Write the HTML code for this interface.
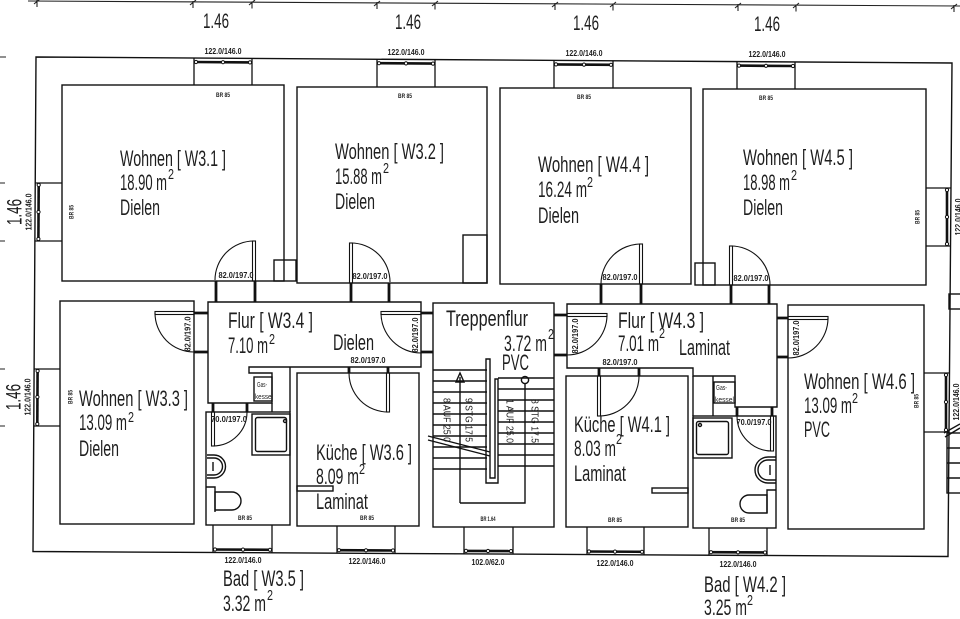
<!DOCTYPE html>
<html><head><meta charset="utf-8">
<style>
html,body{margin:0;padding:0;background:#fff;}
svg{display:block;}
text{font-family:"Liberation Sans",sans-serif;fill:#1e1e1e;}
.t{font-size:22px;}
.s{font-size:15px;}
.d{font-size:21px;}
.sm{font-size:8px;font-weight:bold;}
.br{font-size:6.5px;font-weight:bold;}
.gk{font-size:7px;}
.st{font-size:10px;}
</style></head><body>
<svg width="960" height="619" viewBox="0 0 960 619" xmlns="http://www.w3.org/2000/svg">
<rect width="960" height="619" fill="#fff"/>

<!-- dimension line top -->
<g stroke="#222" stroke-width="1.1" fill="none">
<line x1="28" y1="1" x2="960" y2="6"/>
<path d="M37,0 V7 M34,4 L40,-1 M193,1 V8 M190,5 L196,0 M252,1.5 V8.5 M249,5 L255,0 M377,2 V9 M374,6 L380,1 M435,2.5 V9.5 M432,6 L438,1 M555,3 V10 M552,7 L558,2 M613,3.5 V10.5 M610,7 L616,2 M738,4 V11 M735,8 L741,3 M796,4.5 V11.5 M793,8 L799,3 M954,5 V12 M951,9 L957,4"/>
<path d="M0,57 H6 M0,183 H5 M0,241 H5 M0,369 H5 M0,426 H5"/>
</g>

<g stroke="#111" stroke-width="1.4" fill="none">
<!-- outer wall -->
<polygon points="36,57 952,63 948,556.5 33,551.5"/>

<!-- upper rooms -->
<rect x="62" y="85" width="222" height="196"/>
<rect x="274" y="260" width="22" height="21"/>
<rect x="297" y="87" width="190" height="196"/>
<rect x="463" y="235" width="24" height="48"/>
<rect x="500" y="88" width="191" height="196"/>
<rect x="695" y="263" width="20" height="22"/>
<rect x="703" y="89" width="223" height="196"/>

<!-- lower rooms -->
<rect x="60" y="301" width="134" height="223"/>
<polygon points="208,302 421,302 421,367 249,367 249,373 272,373 272,403 208,403"/>
<line x1="290" y1="367" x2="290" y2="412"/>
<line x1="272" y1="403" x2="272" y2="412"/>
<rect x="206" y="412" width="84" height="113"/>
<rect x="297" y="373" width="122" height="153"/>
<rect x="433" y="303" width="121" height="224"/>
<polygon points="567,304 777,304 777,407 735,407 735,376 693,376 693,368 567,368"/>
<line x1="693" y1="376" x2="693" y2="416"/>
<line x1="713" y1="376" x2="713" y2="416"/>
<rect x="566" y="376" width="122" height="151"/>
<rect x="693" y="416" width="83" height="112"/>
<rect x="788" y="305" width="136" height="224"/>

<!-- gaskessel boxes -->
<rect x="254" y="377" width="18" height="24"/>
<rect x="714" y="382" width="21" height="21"/>

<!-- kitchen counters -->
<rect x="297" y="486" width="36" height="5"/>
<rect x="652" y="488" width="36" height="5"/>

<!-- showers -->
<rect x="252" y="414" width="38" height="41"/>
<rect x="255.5" y="417.5" width="31" height="34" rx="2"/>
<circle cx="285" cy="421" r="1.5"/>
<rect x="693" y="418" width="39" height="40"/>
<rect x="696.5" y="421.5" width="32" height="33" rx="2"/>
<circle cx="700" cy="425" r="1.5"/>

<!-- basins -->
<path d="M207,455 h7 a11.5,11.5 0 0 1 0,23 h-7"/>
<path d="M207,458 h7 a8.5,8.5 0 0 1 0,17 h-7"/>
<line x1="213" y1="462" x2="213" y2="471"/>
<path d="M776,457 h-8 a13,13 0 0 0 0,26 h8"/>
<path d="M776,460 h-8 a10,10 0 0 0 0,20 h8"/>
<line x1="770" y1="465" x2="770" y2="475"/>

<!-- WCs -->
<path d="M206,487 H215 V512"/>
<path d="M215,492 h17 a9,9 0 0 1 0,18 h-17 z"/>
<path d="M776,490 H767 V513"/>
<path d="M767,495 h-18 a9,9 0 0 0 0,18 h18 z"/>

<!-- right edge fragments -->
<rect x="949" y="294" width="14" height="15"/>
<rect x="947" y="433" width="16" height="60"/>
<path d="M947,448 H960 M947,463 H960 M947,478 H960"/>
<path d="M944,433 L960,424 M945,437 L960,428"/>

<!-- stairs -->
<path d="M433,370 H487 M433,381 H487 M433,392 H487 M433,403 H487 M433,414 H487 M433,425 H487 M433,436 H487 M433,447 H487 M433,458 H487 M433,469 H487"/>
<path d="M498,378 H554 M498,389 H554 M498,400 H554 M498,411 H554 M498,422 H554 M498,433 H554 M498,444 H554 M498,455 H554 M498,466 H554"/>
<path d="M486,359 H490 V478 H495 V379 H498 V483 H486 Z"/>
<path d="M460,503 V377 M460,503 H525 V384"/>
<path d="M456,382 L460,373 L464,382 Z"/>
<circle cx="525" cy="380" r="3.6"/>
<path d="M428,436 L490,452 M428,440 L490,456"/>
</g>

<!-- windows -->
<g stroke="#111" stroke-width="1.3" fill="none">
<path d="M194,58 V85 M252,58.4 V85 M377,59.2 V87 M435,59.6 V87 M554,60.4 V88 M613,60.8 V88 M737,61.6 V89 M795,62 V89"/>
<path d="M213,525 V552.5 M272,525 V552.8 M337,526 V553.2 M395,526 V553.5 M464,527 V553.9 M513,527 V554.1 M587,527 V554.5 M644,527 V554.8 M709,528 V555.2 M767,528 V555.5"/>
<path d="M35.2,183 H62 M34.9,241 H62 M34.1,369 H60 M33.8,426 H60"/>
<path d="M926,188 H951 M926,246 H950.5 M924,373 H949.5 M924,432 H949"/>
</g>
<g stroke="#111" stroke-width="2.6">
<line x1="194" y1="62" x2="252" y2="62.4"/>
<line x1="377" y1="63.2" x2="435" y2="63.6"/>
<line x1="554" y1="64.4" x2="613" y2="64.8"/>
<line x1="737" y1="65.6" x2="795" y2="66"/>
<line x1="213" y1="549.5" x2="272" y2="549.8"/>
<line x1="337" y1="550.2" x2="395" y2="550.5"/>
<line x1="464" y1="550.9" x2="513" y2="551.1"/>
<line x1="587" y1="551.5" x2="644" y2="551.8"/>
<line x1="709" y1="552.2" x2="767" y2="552.5"/>
<line x1="38.7" y1="183" x2="38.4" y2="241"/>
<line x1="37.6" y1="369" x2="37.3" y2="426"/>
<line x1="947" y1="188" x2="947" y2="246"/>
<line x1="946" y1="373" x2="946" y2="432"/>
</g>
<g fill="#fff" stroke="#111" stroke-width="1">
<circle cx="196" cy="62" r="1.6"/><circle cx="223" cy="62.2" r="1.6"/><circle cx="250" cy="62.4" r="1.6"/>
<circle cx="379" cy="63.2" r="1.6"/><circle cx="406" cy="63.4" r="1.6"/><circle cx="433" cy="63.6" r="1.6"/>
<circle cx="556" cy="64.4" r="1.6"/><circle cx="584" cy="64.6" r="1.6"/><circle cx="611" cy="64.8" r="1.6"/>
<circle cx="739" cy="65.6" r="1.6"/><circle cx="766" cy="65.8" r="1.6"/><circle cx="793" cy="66" r="1.6"/>
<circle cx="215" cy="549.5" r="1.6"/><circle cx="243" cy="549.6" r="1.6"/><circle cx="270" cy="549.8" r="1.6"/>
<circle cx="339" cy="550.2" r="1.6"/><circle cx="366" cy="550.3" r="1.6"/><circle cx="393" cy="550.5" r="1.6"/>
<circle cx="466" cy="550.9" r="1.6"/><circle cx="488" cy="551" r="1.6"/><circle cx="511" cy="551.1" r="1.6"/>
<circle cx="589" cy="551.5" r="1.6"/><circle cx="615" cy="551.6" r="1.6"/><circle cx="642" cy="551.8" r="1.6"/>
<circle cx="711" cy="552.2" r="1.6"/><circle cx="738" cy="552.3" r="1.6"/><circle cx="765" cy="552.5" r="1.6"/>
<circle cx="38.7" cy="185" r="1.6"/><circle cx="38.5" cy="212" r="1.6"/><circle cx="38.4" cy="239" r="1.6"/>
<circle cx="37.6" cy="371" r="1.6"/><circle cx="37.4" cy="397" r="1.6"/><circle cx="37.3" cy="424" r="1.6"/>
<circle cx="947" cy="190" r="1.6"/><circle cx="947" cy="217" r="1.6"/><circle cx="947" cy="244" r="1.6"/>
<circle cx="946" cy="375" r="1.6"/><circle cx="946" cy="402" r="1.6"/><circle cx="946" cy="430" r="1.6"/>
</g>

<!-- door jambs -->
<g stroke="#111" stroke-width="2.8">
<path d="M216,281 V302 M255,281 V302 M351,283 V302 M389,283 V302 M601,284 V304 M641,284 V304 M731,285 V304 M769,285 V304"/>
<path d="M194,313 H208 M194,352 H208 M421,313 H433 M421,352 H433 M554,315 H567 M554,355 H567 M777,318 H788 M777,357 H788"/>
<path d="M349,367 V373 M388,367 V373 M599,368 V376 M639,368 V376 M213,403 V412 M247,403 V412 M737,407 V416 M772,407 V416"/>
</g>

<!-- door leaves and swings -->
<g stroke="#111" stroke-width="1.1" fill="none">
<rect x="252.5" y="241" width="3" height="40"/><path d="M254,241 A39,39 0 0 0 215,280"/>
<rect x="349.5" y="243" width="3" height="40"/><path d="M351,243 A39,39 0 0 1 390,282"/>
<rect x="639.5" y="244" width="3" height="40"/><path d="M641,244 A40,40 0 0 0 601,284"/>
<rect x="729.5" y="246" width="3" height="39"/><path d="M731,246 A39,39 0 0 1 770,285"/>
<rect x="155" y="311.5" width="39" height="3"/><path d="M155,313 A39,39 0 0 0 194,352"/>
<rect x="381" y="311.5" width="40" height="3"/><path d="M381,313 A40,40 0 0 0 421,353"/>
<rect x="567" y="313.5" width="40" height="3"/><path d="M607,315 A40,40 0 0 1 567,355"/>
<rect x="788" y="316.5" width="40" height="3"/><path d="M828,318 A40,40 0 0 1 788,358"/>
<rect x="386.5" y="373" width="3" height="39"/><path d="M349,373 A39,39 0 0 0 388,412"/>
<rect x="597.5" y="376" width="3" height="40"/><path d="M639,376 A40,40 0 0 1 599,416"/>
<rect x="211.5" y="412" width="3" height="34"/><path d="M247,412 A34,34 0 0 1 213,446"/>
<rect x="770.5" y="416" width="3" height="35"/><path d="M737,416 A35,35 0 0 0 772,451"/>
</g>

<!-- dimension texts -->
<g class="d">
<text class="d" x="216" y="28" text-anchor="middle" textLength="26" lengthAdjust="spacingAndGlyphs">1.46</text>
<text class="d" x="408" y="29" text-anchor="middle" textLength="26" lengthAdjust="spacingAndGlyphs">1.46</text>
<text class="d" x="586" y="30" text-anchor="middle" textLength="26" lengthAdjust="spacingAndGlyphs">1.46</text>
<text class="d" x="767" y="31" text-anchor="middle" textLength="26" lengthAdjust="spacingAndGlyphs">1.46</text>
<text class="d" transform="translate(14,212) rotate(-90)" x="0" y="7.5" text-anchor="middle" textLength="26" lengthAdjust="spacingAndGlyphs">1.46</text>
<text class="d" transform="translate(13,397) rotate(-90)" x="0" y="7.5" text-anchor="middle" textLength="26" lengthAdjust="spacingAndGlyphs">1.46</text>
</g>

<!-- window labels -->
<g>
<text class="sm" x="223" y="54" text-anchor="middle" textLength="37" lengthAdjust="spacingAndGlyphs">122.0/146.0</text>
<text class="sm" x="406" y="55" text-anchor="middle" textLength="37" lengthAdjust="spacingAndGlyphs">122.0/146.0</text>
<text class="sm" x="584" y="56" text-anchor="middle" textLength="37" lengthAdjust="spacingAndGlyphs">122.0/146.0</text>
<text class="sm" x="767" y="57" text-anchor="middle" textLength="37" lengthAdjust="spacingAndGlyphs">122.0/146.0</text>
<text class="sm" x="243" y="563" text-anchor="middle" textLength="37" lengthAdjust="spacingAndGlyphs">122.0/146.0</text>
<text class="sm" x="367" y="564" text-anchor="middle" textLength="37" lengthAdjust="spacingAndGlyphs">122.0/146.0</text>
<text class="sm" x="488" y="565" text-anchor="middle" textLength="33" lengthAdjust="spacingAndGlyphs">102.0/62.0</text>
<text class="sm" x="615" y="566" text-anchor="middle" textLength="37" lengthAdjust="spacingAndGlyphs">122.0/146.0</text>
<text class="sm" x="738" y="567" text-anchor="middle" textLength="37" lengthAdjust="spacingAndGlyphs">122.0/146.0</text>
<text class="sm" transform="translate(28.5,212) rotate(-90)" x="0" y="2.8" text-anchor="middle" textLength="37" lengthAdjust="spacingAndGlyphs">122.0/146.0</text>
<text class="sm" transform="translate(27.5,397) rotate(-90)" x="0" y="2.8" text-anchor="middle" textLength="37" lengthAdjust="spacingAndGlyphs">122.0/146.0</text>
<text class="sm" transform="translate(958,217) rotate(-90)" x="0" y="2.8" text-anchor="middle" textLength="37" lengthAdjust="spacingAndGlyphs">122.0/146.0</text>
<text class="sm" transform="translate(956,402) rotate(-90)" x="0" y="2.8" text-anchor="middle" textLength="37" lengthAdjust="spacingAndGlyphs">122.0/146.0</text>
</g>

<!-- door labels -->
<g>
<text class="sm" x="236" y="278" text-anchor="middle" textLength="35" lengthAdjust="spacingAndGlyphs">82.0/197.0</text>
<text class="sm" x="370" y="279" text-anchor="middle" textLength="35" lengthAdjust="spacingAndGlyphs">82.0/197.0</text>
<text class="sm" x="620" y="280" text-anchor="middle" textLength="35" lengthAdjust="spacingAndGlyphs">82.0/197.0</text>
<text class="sm" x="751" y="281" text-anchor="middle" textLength="35" lengthAdjust="spacingAndGlyphs">82.0/197.0</text>
<text class="sm" x="368" y="363" text-anchor="middle" textLength="35" lengthAdjust="spacingAndGlyphs">82.0/197.0</text>
<text class="sm" x="620" y="365" text-anchor="middle" textLength="35" lengthAdjust="spacingAndGlyphs">82.0/197.0</text>
<text class="sm" x="229" y="422" text-anchor="middle" textLength="36" lengthAdjust="spacingAndGlyphs">70.0/197.0</text>
<text class="sm" x="754" y="425" text-anchor="middle" textLength="35" lengthAdjust="spacingAndGlyphs">70.0/197.0</text>
<text class="sm" transform="translate(187.5,334) rotate(-90)" x="0" y="2.8" text-anchor="middle" textLength="35" lengthAdjust="spacingAndGlyphs">82.0/197.0</text>
<text class="sm" transform="translate(415,335) rotate(-90)" x="0" y="2.8" text-anchor="middle" textLength="35" lengthAdjust="spacingAndGlyphs">82.0/197.0</text>
<text class="sm" transform="translate(575,336) rotate(-90)" x="0" y="2.8" text-anchor="middle" textLength="35" lengthAdjust="spacingAndGlyphs">82.0/197.0</text>
<text class="sm" transform="translate(796,338) rotate(-90)" x="0" y="2.8" text-anchor="middle" textLength="35" lengthAdjust="spacingAndGlyphs">82.0/197.0</text>
</g>

<!-- BR labels -->
<g>
<text class="br" x="223" y="97" text-anchor="middle" textLength="14" lengthAdjust="spacingAndGlyphs">BR 85</text>
<text class="br" x="405" y="98" text-anchor="middle" textLength="14" lengthAdjust="spacingAndGlyphs">BR 85</text>
<text class="br" x="584" y="99" text-anchor="middle" textLength="14" lengthAdjust="spacingAndGlyphs">BR 85</text>
<text class="br" x="766" y="100" text-anchor="middle" textLength="14" lengthAdjust="spacingAndGlyphs">BR 85</text>
<text class="br" x="245" y="520" text-anchor="middle" textLength="14" lengthAdjust="spacingAndGlyphs">BR 85</text>
<text class="br" x="367" y="520" text-anchor="middle" textLength="14" lengthAdjust="spacingAndGlyphs">BR 85</text>
<text class="br" x="488" y="521" text-anchor="middle" textLength="15" lengthAdjust="spacingAndGlyphs">BR 1.64</text>
<text class="br" x="615" y="522" text-anchor="middle" textLength="14" lengthAdjust="spacingAndGlyphs">BR 85</text>
<text class="br" x="738" y="522" text-anchor="middle" textLength="14" lengthAdjust="spacingAndGlyphs">BR 85</text>
<text class="br" transform="translate(71,212) rotate(-90)" x="0" y="2.3" text-anchor="middle" textLength="14" lengthAdjust="spacingAndGlyphs">BR 85</text>
<text class="br" transform="translate(917,217) rotate(-90)" x="0" y="2.3" text-anchor="middle" textLength="14" lengthAdjust="spacingAndGlyphs">BR 85</text>
<text class="br" transform="translate(70,397) rotate(-90)" x="0" y="2.3" text-anchor="middle" textLength="14" lengthAdjust="spacingAndGlyphs">BR 85</text>
<text class="br" transform="translate(916,401) rotate(-90)" x="0" y="2.3" text-anchor="middle" textLength="14" lengthAdjust="spacingAndGlyphs">BR 85</text>
</g>

<!-- gaskessel labels -->
<text class="gk" x="257" y="387" textLength="10" lengthAdjust="spacingAndGlyphs">Gas-</text>
<text class="gk" x="255" y="399" textLength="18" lengthAdjust="spacingAndGlyphs">kessel</text>
<text class="gk" x="716" y="390" textLength="11" lengthAdjust="spacingAndGlyphs">Gas-</text>
<text class="gk" x="715" y="402" textLength="19" lengthAdjust="spacingAndGlyphs">kessel</text>

<!-- stair labels -->
<text class="st" transform="translate(447,420) rotate(90)" x="0" y="3.5" text-anchor="middle" textLength="44" lengthAdjust="spacingAndGlyphs">8 AUF 25.0</text>
<text class="st" transform="translate(469,420) rotate(90)" x="0" y="3.5" text-anchor="middle" textLength="44" lengthAdjust="spacingAndGlyphs">9 STG 17.5</text>
<text class="st" transform="translate(510,421) rotate(90)" x="0" y="3.5" text-anchor="middle" textLength="44" lengthAdjust="spacingAndGlyphs">1 AUF 25.0</text>
<text class="st" transform="translate(535,421) rotate(90)" x="0" y="3.5" text-anchor="middle" textLength="44" lengthAdjust="spacingAndGlyphs">8 STG 17.5</text>

<!-- room labels -->
<g class="t">
<text class="t" x="120" y="166" textLength="106" lengthAdjust="spacingAndGlyphs">Wohnen [ W3.1 ]</text>
<text class="t" x="120" y="190" textLength="47" lengthAdjust="spacingAndGlyphs">18.90 m</text>
<text class="s" x="168" y="179" textLength="6" lengthAdjust="spacingAndGlyphs">2</text>
<text class="t" x="120" y="215" textLength="40" lengthAdjust="spacingAndGlyphs">Dielen</text>

<text class="t" x="335" y="159" textLength="109" lengthAdjust="spacingAndGlyphs">Wohnen [ W3.2 ]</text>
<text class="t" x="335" y="184" textLength="47" lengthAdjust="spacingAndGlyphs">15.88 m</text>
<text class="s" x="383" y="173" textLength="6" lengthAdjust="spacingAndGlyphs">2</text>
<text class="t" x="335" y="209" textLength="40" lengthAdjust="spacingAndGlyphs">Dielen</text>

<text class="t" x="538" y="172" textLength="111" lengthAdjust="spacingAndGlyphs">Wohnen [ W4.4 ]</text>
<text class="t" x="538" y="197" textLength="49" lengthAdjust="spacingAndGlyphs">16.24 m</text>
<text class="s" x="587" y="187" textLength="6" lengthAdjust="spacingAndGlyphs">2</text>
<text class="t" x="538" y="223" textLength="41" lengthAdjust="spacingAndGlyphs">Dielen</text>

<text class="t" x="743" y="165" textLength="110" lengthAdjust="spacingAndGlyphs">Wohnen [ W4.5 ]</text>
<text class="t" x="743" y="190" textLength="47" lengthAdjust="spacingAndGlyphs">18.98 m</text>
<text class="s" x="791" y="180" textLength="6" lengthAdjust="spacingAndGlyphs">2</text>
<text class="t" x="743" y="215" textLength="40" lengthAdjust="spacingAndGlyphs">Dielen</text>

<text class="t" x="79" y="406" textLength="109" lengthAdjust="spacingAndGlyphs">Wohnen [ W3.3 ]</text>
<text class="t" x="79" y="430" textLength="48" lengthAdjust="spacingAndGlyphs">13.09 m</text>
<text class="s" x="128" y="422" textLength="6" lengthAdjust="spacingAndGlyphs">2</text>
<text class="t" x="79" y="456" textLength="40" lengthAdjust="spacingAndGlyphs">Dielen</text>

<text class="t" x="228" y="328" textLength="85" lengthAdjust="spacingAndGlyphs">Flur [ W3.4 ]</text>
<text class="t" x="228" y="353" textLength="40" lengthAdjust="spacingAndGlyphs">7.10 m</text>
<text class="s" x="269" y="344" textLength="6" lengthAdjust="spacingAndGlyphs">2</text>
<text class="t" x="333" y="350" textLength="41" lengthAdjust="spacingAndGlyphs">Dielen</text>

<text class="t" x="316" y="460" textLength="96" lengthAdjust="spacingAndGlyphs">Küche [ W3.6 ]</text>
<text class="t" x="316" y="484" textLength="43" lengthAdjust="spacingAndGlyphs">8.09 m</text>
<text class="s" x="359" y="474" textLength="6" lengthAdjust="spacingAndGlyphs">2</text>
<text class="t" x="316" y="509" textLength="52" lengthAdjust="spacingAndGlyphs">Laminat</text>

<text class="t" x="223" y="586" textLength="81" lengthAdjust="spacingAndGlyphs">Bad [ W3.5 ]</text>
<text class="t" x="223" y="611" textLength="43" lengthAdjust="spacingAndGlyphs">3.32 m</text>
<text class="s" x="267" y="600" textLength="6" lengthAdjust="spacingAndGlyphs">2</text>

<text class="t" x="446" y="326" textLength="82" lengthAdjust="spacingAndGlyphs">Treppenflur</text>
<text class="t" x="504" y="351" textLength="43" lengthAdjust="spacingAndGlyphs">3.72 m</text>
<text class="s" x="548" y="339" textLength="6" lengthAdjust="spacingAndGlyphs">2</text>
<text class="t" x="502" y="370" textLength="27" lengthAdjust="spacingAndGlyphs">PVC</text>

<text class="t" x="618" y="328" textLength="86" lengthAdjust="spacingAndGlyphs">Flur [ W4.3 ]</text>
<text class="t" x="618" y="351" textLength="41" lengthAdjust="spacingAndGlyphs">7.01 m</text>
<text class="s" x="659" y="338" textLength="6" lengthAdjust="spacingAndGlyphs">2</text>
<text class="t" x="679" y="355" textLength="51" lengthAdjust="spacingAndGlyphs">Laminat</text>

<text class="t" x="574" y="432" textLength="96" lengthAdjust="spacingAndGlyphs">Küche [ W4.1 ]</text>
<text class="t" x="574" y="456" textLength="42" lengthAdjust="spacingAndGlyphs">8.03 m</text>
<text class="s" x="616" y="444" textLength="6" lengthAdjust="spacingAndGlyphs">2</text>
<text class="t" x="574" y="481" textLength="52" lengthAdjust="spacingAndGlyphs">Laminat</text>

<text class="t" x="804" y="389" textLength="111" lengthAdjust="spacingAndGlyphs">Wohnen [ W4.6 ]</text>
<text class="t" x="804" y="413" textLength="48" lengthAdjust="spacingAndGlyphs">13.09 m</text>
<text class="s" x="852" y="403" textLength="6" lengthAdjust="spacingAndGlyphs">2</text>
<text class="t" x="804" y="437" textLength="26" lengthAdjust="spacingAndGlyphs">PVC</text>

<text class="t" x="704" y="592" textLength="82" lengthAdjust="spacingAndGlyphs">Bad [ W4.2 ]</text>
<text class="t" x="704" y="615" textLength="43" lengthAdjust="spacingAndGlyphs">3.25 m</text>
<text class="s" x="747" y="605" textLength="6" lengthAdjust="spacingAndGlyphs">2</text>
</g>
</svg>
</body></html>
